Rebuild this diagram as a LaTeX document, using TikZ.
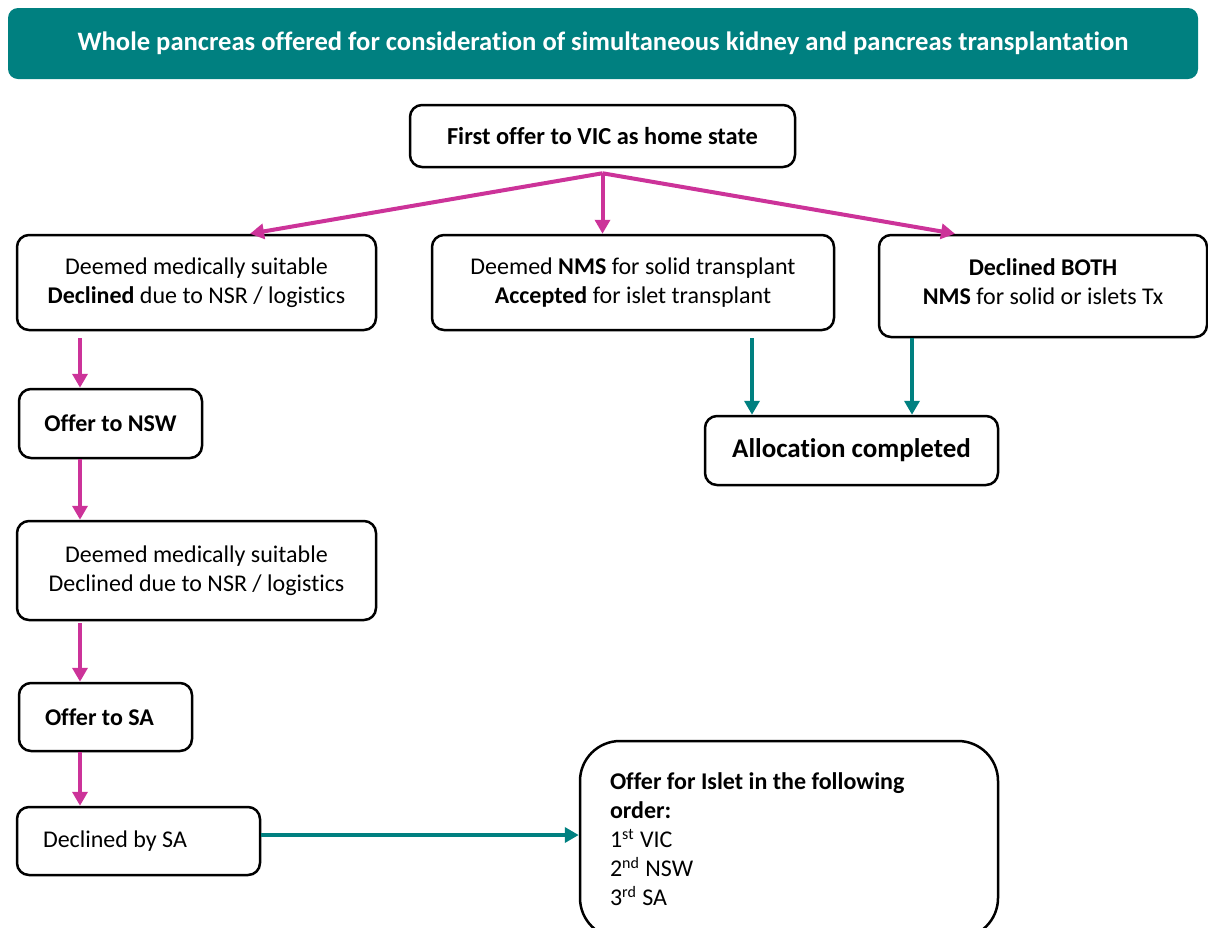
\documentclass[tikz,border=0pt]{standalone}
\usepackage{fontspec}
\setmainfont{Carlito}[Ligatures=NoCommon]
\usepackage{tikz}
\usetikzlibrary{arrows.meta, calc}
\usepackage{xcolor}
\definecolor{bannerteal}{HTML}{008080}
\definecolor{flowpink}{HTML}{CC3399}

\tikzset{
	box/.style={draw=black, line width=1.25pt, rounded corners=6pt, align=center, inner sep=0pt, font=\fontsize{12}{14.5}\selectfont},
	leftbox/.style={box, align=flush left, inner xsep=12.5pt},
	pinkarrow/.style={draw=flowpink, line width=2pt, -{Triangle[width=7.5pt, length=7pt]}},
	tealarrow/.style={draw=bannerteal, line width=2pt, -{Triangle[width=7.5pt, length=7pt]}}
}

\begin{document}
\begin{tikzpicture}[x=0.5pt, y=-0.5pt]
	\useasboundingbox (0,0) rectangle (1208,927);
	\path (603,43.5) node (title) [fill=bannerteal, rounded corners=5pt, minimum width=595pt, minimum height=35.5pt, text=white, font=\fontsize{13.3}{16}\selectfont\bfseries] {Whole pancreas offered for consideration of simultaneous kidney and pancreas transplantation};
	\path (602.5,136) node (first) [box, minimum width=192.5pt, minimum height=31pt, font=\fontsize{12.2}{14.5}\selectfont] {\textbf{First offer to VIC as home state}};
	\path (196.5,282.5) node (dmsA) [box, minimum width=179.5pt, minimum height=47.5pt] {Deemed medically suitable\\\textbf{Declined} due to NSR / logistics};
	\path (633,282.5) node (nms) [box, minimum width=201pt, minimum height=47.5pt] {Deemed \textbf{NMS} for solid transplant\\\textbf{Accepted} for islet transplant};
	\path (1043,286) node (both) [box, minimum width=164pt, minimum height=51pt] {\textbf{Declined BOTH}\\\textbf{NMS} for solid or islets Tx\\[-10.5pt]};
	\path (110.5,423.5) node (nsw) [box, minimum width=91.5pt, minimum height=34.5pt] {\textbf{Offer to NSW}};
	\path (196.5,570.5) node (dmsB) [box, minimum width=179.5pt, minimum height=49.5pt] {Deemed medically suitable\\Declined due to NSR / logistics};
	\path (105.5,717) node (sa) [leftbox, inner xsep=13pt, text width=60.5pt, minimum height=34pt] {\textbf{Offer to SA}};
	\path (138.5,841) node (declsa) [leftbox, inner xsep=13pt, text width=95.5pt, minimum height=34pt] {Declined by SA\\[3pt]};
	\path (851.5,450.5) node (alloc) [box, minimum width=146.5pt, minimum height=34.5pt, font=\fontsize{13.5}{16}\selectfont\bfseries] {Allocation completed};
	\path (789,839.5) node (islet) [leftbox, rounded corners=20pt, inner xsep=15pt, text width=179pt, minimum height=98.5pt] {\textbf{Offer for Islet in the following}\\\textbf{order:}\\1\textsuperscript{st} VIC\\2\textsuperscript{nd} NSW\\3\textsuperscript{rd} SA\\[10pt]};
	\coordinate (split) at ([yshift=-2.5pt]first.south);
	\draw [pinkarrow] (split) -- ([xshift=26.75pt]dmsA.north);
	\draw [pinkarrow] (split) -- (split |- nms.north);
	\draw [pinkarrow] (split) -- ([xshift=-44pt]both.north);
	\draw [pinkarrow] ([yshift=-3.5pt]dmsA.south -| 80,0) -- (nsw.north -| 80,0);
	\draw [pinkarrow] (nsw.south -| 80,0) -- (dmsB.north -| 80,0);
	\draw [pinkarrow] ([yshift=-1pt]dmsB.south -| 80,0) -- (sa.north -| 80,0);
	\draw [pinkarrow] (sa.south -| 80,0) -- (declsa.north -| 80,0);
	\draw [tealarrow] ([yshift=-3.5pt]nms.south -| 752,0) -- (alloc.north -| 752,0);
	\draw [tealarrow] (both.south -| 912,0) -- (alloc.north -| 912,0);
	\draw [tealarrow] ([yshift=3pt]declsa.east) -- ([yshift=3pt]declsa.east -| islet.west);
\end{tikzpicture}
\end{document}
